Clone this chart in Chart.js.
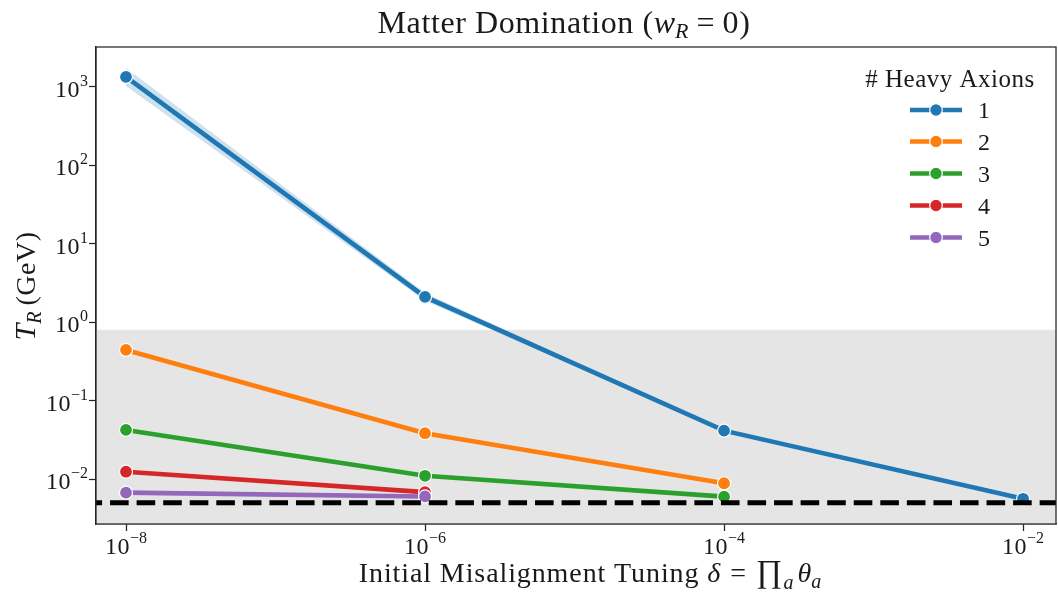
<!DOCTYPE html>
<html>
<head>
<meta charset="utf-8">
<script src="https://cdn.jsdelivr.net/npm/chart.js@4.4.1/dist/chart.umd.min.js"></script>
<style>
  html, body { margin: 0; padding: 0; background: #fff; overflow: hidden; }
  #wrap { width: 1058px; height: 592px; position: relative; overflow: hidden; }
  #c { display: block; }
</style>
</head>
<body>
<div id="wrap"><canvas id="c"></canvas></div>
<script>
// Initial misalignment tuning delta (x) and reheating temperature T_R in GeV (y)
const deltas = [1e-8, 1e-6, 1e-4, 1e-2];
const tr1 = [1343, 2.1, 0.0414, 0.0056];
const tr2 = [0.443, 0.0384, 0.00884];
const tr3 = [0.0423, 0.0110, 0.00596];
const tr4 = [0.0124, 0.0068];
const tr5 = [0.0067, 0.0060];
// spread band around the single heavy axion curve
const tr1Lo = [1030, 1.88, 0.0408, 0.00556];
const tr1Hi = [1750, 2.35, 0.0420, 0.00564];
// spread bands for the 4 and 5 axion curves
const tr4Lo = [0.0119, 0.0064];
const tr4Hi = [0.0129, 0.0071];
const tr5Lo = [0.0063, 0.0057];
const tr5Hi = [0.0071, 0.0063];

const seriesLabels = ['1', '2', '3', '4', '5'];
const seriesColors = ['#1f77b4', '#ff7f0e', '#2ca02c', '#d62728', '#9467bd'];
const xTicks = [1e-8, 1e-6, 1e-4, 1e-2];
const yTicks = [1e-2, 1e-1, 1e0, 1e1, 1e2, 1e3];
const shadeTop = 0.8;      // upper edge of the shaded region (GeV)
const threshold = 0.005;   // dashed lower bound (GeV)

const SERIF = '"Liberation Serif", "DejaVu Serif", serif';

function pts(ys) { return ys.map((y, i) => ({ x: deltas[i], y })); }

function bandPair(lo, hi, color) {
  return [
    { data: pts(hi), borderWidth: 0, pointRadius: 0, backgroundColor: color, fill: false, order: 20 },
    { data: pts(lo), borderWidth: 0, pointRadius: 0, backgroundColor: color, fill: '-1', order: 20 }
  ];
}

const allSeries = [tr1, tr2, tr3, tr4, tr5];
const lineSets = allSeries.map((ys, i) => ({
  label: seriesLabels[i],
  data: pts(ys),
  borderColor: seriesColors[i],
  backgroundColor: seriesColors[i],
  borderWidth: 4.6,
  pointRadius: 6.5,
  pointHoverRadius: 6.5,
  pointBorderColor: '#ffffff',
  pointBorderWidth: 1.2,
  pointBackgroundColor: seriesColors[i],
  tension: 0,
  order: 5 - i
}));

const datasets = [
  ...bandPair(tr1Lo, tr1Hi, 'rgba(31,119,180,0.22)'),
  ...bandPair(tr4Lo, tr4Hi, 'rgba(214,39,40,0.22)'),
  ...bandPair(tr5Lo, tr5Hi, 'rgba(148,103,189,0.25)'),
  ...lineSets
];

// text made of runs with their own fonts and baseline offsets
function setFont(ctx, r) {
  ctx.font = r.font;
  ctx.letterSpacing = (r.ls || 0) + 'px';
}
function runsWidth(ctx, runs) {
  let w = 0;
  runs.forEach(r => { setFont(ctx, r); w += ctx.measureText(r.t).width + (r.gap || 0); });
  return w;
}
function drawRuns(ctx, runs, x, y, align) {
  const w = runsWidth(ctx, runs);
  let cx = align === 'center' ? x - w / 2 : align === 'right' ? x - w : x;
  ctx.textAlign = 'left';
  ctx.textBaseline = 'alphabetic';
  runs.forEach(r => {
    setFont(ctx, r);
    ctx.fillText(r.t, cx, y + (r.dy || 0));
    cx += ctx.measureText(r.t).width + (r.gap || 0);
  });
  ctx.letterSpacing = '0px';
}
function powerRuns(v) {
  const e = Math.round(Math.log10(v));
  const exp = e < 0 ? '\u2212' + Math.abs(e) : String(e);
  return [
    { t: '10', font: '24px ' + SERIF, ls: 0.5 },
    { t: exp, font: '16px ' + SERIF, dy: -11 }
  ];
}

const decor = {
  id: 'decor',
  beforeDatasetsDraw(chart) {
    const { ctx, chartArea: a, scales: { y } } = chart;
    const top = y.getPixelForValue(shadeTop);
    ctx.save();
    ctx.fillStyle = '#e5e5e5';
    ctx.fillRect(a.left, top, a.right - a.left, a.bottom - top);
    ctx.restore();
  },
  afterDatasetsDraw(chart) {
    const { ctx, chartArea: a, scales: { y } } = chart;
    const ty = y.getPixelForValue(threshold);
    ctx.save();
    ctx.beginPath();
    ctx.rect(a.left, a.top, a.right - a.left, a.bottom - a.top);
    ctx.clip();
    ctx.strokeStyle = '#000';
    ctx.lineWidth = 5;
    ctx.setLineDash([18.6, 7.96]);
    ctx.lineDashOffset = 12.5;
    ctx.beginPath();
    ctx.moveTo(a.left, ty);
    ctx.lineTo(a.right, ty);
    ctx.stroke();
    ctx.restore();
  },
  afterDraw(chart) {
    const { ctx, chartArea: a, scales: { x, y } } = chart;
    ctx.save();
    // frame
    ctx.strokeStyle = '#262626';
    ctx.lineWidth = 1.25;
    ctx.strokeRect(a.left, a.top, a.right - a.left, a.bottom - a.top);

    ctx.fillStyle = '#1a1a1a';
    // tick labels
    xTicks.forEach(v => drawRuns(ctx, powerRuns(v), x.getPixelForValue(v), 554, 'center'));
    yTicks.forEach(v => drawRuns(ctx, powerRuns(v), 88, y.getPixelForValue(v) + 10, 'right'));

    // title
    drawRuns(ctx, [
      { t: 'Matter Domination (', font: '32px ' + SERIF, ls: 0.6 },
      { t: 'w', font: 'italic 32px ' + SERIF },
      { t: 'R', font: 'italic 22px ' + SERIF, dy: 5, gap: 8 },
      { t: '=', font: '32px ' + SERIF, gap: 8 },
      { t: '0)', font: '32px ' + SERIF, ls: 0.6 }
    ], 564, 33, 'center');

    // x axis title
    drawRuns(ctx, [
      { t: 'Initial Misalignment Tuning ', font: '28px ' + SERIF, ls: 0.9 },
      { t: '\u03B4', font: 'italic 28px ' + SERIF, gap: 10 },
      { t: '=', font: '28px ' + SERIF, gap: 10 },
      { t: '\u220F', font: '32px ' + SERIF, gap: 1 },
      { t: 'a', font: 'italic 20px ' + SERIF, dy: 7, gap: 4 },
      { t: '\u03B8', font: 'italic 28px ' + SERIF },
      { t: 'a', font: 'italic 20px ' + SERIF, dy: 6 }
    ], 590, 582, 'center');

    // y axis title
    ctx.save();
    ctx.translate(35, 286);
    ctx.rotate(-Math.PI / 2);
    drawRuns(ctx, [
      { t: 'T', font: 'italic 30px ' + SERIF },
      { t: 'R', font: 'italic 20px ' + SERIF, dy: 6, gap: 6 },
      { t: '(GeV)', font: '28px ' + SERIF, ls: 0.5 }
    ], 0, 0, 'center');
    ctx.restore();

    // legend
    drawRuns(ctx, [{ t: '# Heavy Axions', font: '25px ' + SERIF, ls: 0.5 }], 950, 87, 'center');
    const rows = [110, 141.5, 173.5, 205.5, 237.5];
    rows.forEach((ry, i) => {
      ctx.strokeStyle = seriesColors[i];
      ctx.lineWidth = 4.6;
      ctx.setLineDash([]);
      ctx.beginPath();
      ctx.moveTo(910, ry);
      ctx.lineTo(962, ry);
      ctx.stroke();
      ctx.beginPath();
      ctx.arc(936, ry, 6.3, 0, Math.PI * 2);
      ctx.fillStyle = seriesColors[i];
      ctx.fill();
      ctx.strokeStyle = '#fff';
      ctx.lineWidth = 1.2;
      ctx.stroke();
      ctx.fillStyle = '#1a1a1a';
      drawRuns(ctx, [{ t: seriesLabels[i], font: '24px ' + SERIF }], 978, ry + 8, 'left');
    });
    ctx.restore();
  }
};

new Chart(document.getElementById('c'), {
  type: 'line',
  data: { datasets },
  plugins: [decor],
  options: {
    responsive: true,
    maintainAspectRatio: false,
    animation: false,
    layout: { autoPadding: false, padding: { top: 47, right: 2, left: 0, bottom: 0 } },
    plugins: {
      legend: { display: false },
      title: { display: false },
      tooltip: { enabled: false }
    },
    scales: {
      x: {
        type: 'logarithmic',
        min: 6.3e-9,
        max: 0.0166,
        afterBuildTicks(s) { s.ticks = xTicks.map(v => ({ value: v })); },
        afterFit(s) { s.height = 68; s.paddingLeft = 0; s.paddingRight = 0; },
        ticks: { display: false },
        grid: { drawOnChartArea: false, drawTicks: true, tickLength: 7, tickWidth: 1.25, tickColor: '#262626' },
        border: { display: true, color: '#262626', width: 1.25 }
      },
      y: {
        type: 'logarithmic',
        min: 0.00267,
        max: 3236,
        afterBuildTicks(s) { s.ticks = yTicks.map(v => ({ value: v })); },
        afterFit(s) { s.width = 96; s.paddingTop = 0; s.paddingBottom = 0; },
        ticks: { display: false },
        grid: { drawOnChartArea: false, drawTicks: true, tickLength: 7, tickWidth: 1.25, tickColor: '#262626' },
        border: { display: true, color: '#262626', width: 1.25 }
      }
    }
  }
});
</script>
</body>
</html>
